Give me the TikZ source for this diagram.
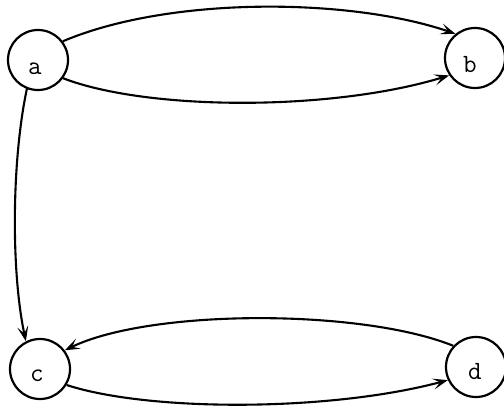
\documentclass[tikz,border=0pt]{standalone}
\usetikzlibrary{arrows.meta}
\newcommand{\lbltext}[1]{\scalebox{1.55}{\ttfamily\fontsize{17}{19}\selectfont #1}}
\begin{document}
\begin{tikzpicture}[x=1pt,y=-1pt,
  vtx/.style={circle,draw,line width=2.2pt,minimum size=60pt,inner sep=0pt},
  lbl/.style={inner sep=0pt},
  edge/.style={line width=2.1pt,-{Stealth[length=15pt,width=11pt,inset=7pt]}}]
\useasboundingbox (0,0) rectangle (504,406);
\node[vtx] (a) at (38,60) {};
\node[vtx] (b) at (475,58) {};
\node[vtx] (c) at (40,369) {};
\node[vtx] (d) at (476,367) {};
\node[lbl] (la) at ([shift={(-3,9)}]a.center) {\lbltext{a}};
\node[lbl] (lb) at ([shift={(-5,7)}]b.center) {\lbltext{b}};
\node[lbl] (lc) at ([shift={(-3,7)}]c.center) {\lbltext{c}};
\node[lbl] (ld) at ([shift={(-1,5)}]d.center) {\lbltext{d}};
\draw[edge] (a.37) to[out=23,in=161,out distance=116pt,in distance=111pt] (b.129);
\draw[edge] (a.-36) to[out=-21,in=-163,out distance=91pt,in distance=123pt] (b.-146);
\draw[edge] (a.249) to[out=258,in=102,out distance=73pt,in distance=72pt] (c.117);
\draw[edge] (d.137) to[out=158,in=26,out distance=99pt,in distance=95pt] (c.37);
\draw[edge] (c.-31) to[out=-18,in=195,out distance=87pt,in distance=122pt] (d.205);
\end{tikzpicture}
\end{document}
